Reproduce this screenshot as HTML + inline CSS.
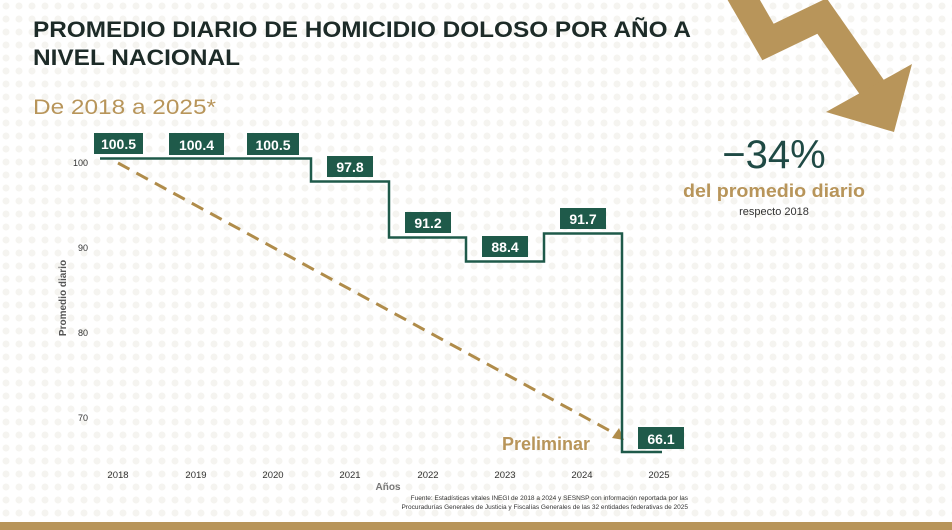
<!DOCTYPE html>
<html><head><meta charset="utf-8"><style>
body{margin:0;width:952px;height:530px;background:#fff;overflow:hidden;font-family:"Liberation Sans",sans-serif;}
</style></head><body>
<svg width="952" height="530" xmlns="http://www.w3.org/2000/svg" style="position:absolute;left:0;top:0">
<defs><pattern id="d" width="13" height="13" patternUnits="userSpaceOnUse"><circle cx="6" cy="6" r="3.5" fill="#f5f4f0"/></pattern></defs>
<rect width="952" height="530" fill="url(#d)"/>
<polyline points="738,-10 768,42 822,16 878,96" fill="none" stroke="#b8955a" stroke-width="28" stroke-linejoin="miter"/>
<polygon points="826,112 912,64 894,132" fill="#b8955a"/>
<rect x="0" y="522" width="952" height="8" fill="#b8955a"/>
<text x="33" y="37" font-size="22" font-weight="bold" fill="#1d2b28" textLength="658" lengthAdjust="spacingAndGlyphs">PROMEDIO DIARIO DE HOMICIDIO DOLOSO POR AÑO A</text>
<text x="33" y="65" font-size="22" font-weight="bold" fill="#1d2b28" textLength="207" lengthAdjust="spacingAndGlyphs">NIVEL NACIONAL</text>
<text x="33" y="114" font-size="21" fill="#b8955a" textLength="183" lengthAdjust="spacingAndGlyphs">De 2018 a 2025*</text>
<text x="774" y="168" font-size="40" fill="#1f4a45" text-anchor="middle">−34%</text>
<text x="683" y="197" font-size="18" font-weight="bold" fill="#b8955a" textLength="182" lengthAdjust="spacingAndGlyphs">del promedio diario</text>
<text x="774" y="215" font-size="11" fill="#333" text-anchor="middle">respecto 2018</text>
<g font-size="9" fill="#333" text-anchor="end">
<text x="88" y="166">100</text><text x="88" y="251">90</text><text x="88" y="336">80</text><text x="88" y="421">70</text></g>
<text transform="translate(66,298) rotate(-90)" font-size="10" font-weight="bold" fill="#555" text-anchor="middle">Promedio diario</text>
<g font-size="9.5" fill="#333" text-anchor="middle">
<text x="118" y="478">2018</text><text x="196" y="478">2019</text><text x="273" y="478">2020</text><text x="350" y="478">2021</text><text x="428" y="478">2022</text><text x="505" y="478">2023</text><text x="582" y="478">2024</text><text x="659" y="478">2025</text></g>
<text x="388" y="490" font-size="10" font-weight="bold" fill="#777" text-anchor="middle">Años</text>
<text x="688" y="500" font-size="6.5" fill="#333" text-anchor="end">Fuente: Estadísticas vitales INEGI de 2018 a 2024 y SESNSP con información reportada por las</text>
<text x="688" y="509" font-size="6.5" fill="#333" text-anchor="end">Procuradurías Generales de Justicia y Fiscalías Generales de las 32 entidades federativas de 2025</text>
<line x1="118" y1="163" x2="612" y2="432" stroke="#b08c4a" stroke-width="3" stroke-dasharray="13,8"/>
<polygon points="624,440 612,438 619,428" fill="#b08c4a"/>
<text x="590" y="450" font-size="18" font-weight="bold" fill="#b8955a" text-anchor="end">Preliminar</text>
<polyline points="100,158.5 311,158.5 311,181.5 389,181.5 389,237.5 466,237.5 466,261.5 544,261.5 544,233.5 622,233.5 622,452 662,452" fill="none" stroke="#1f5a4a" stroke-width="2.5"/>
<g font-size="14" font-weight="bold" fill="#fff" text-anchor="middle">
<rect x="94" y="133" width="49" height="21" fill="#1f5a4a"/><text x="118.5" y="149">100.5</text>
<rect x="169" y="133" width="55" height="22" fill="#1f5a4a"/><text x="196.5" y="150">100.4</text>
<rect x="247" y="133" width="52" height="22" fill="#1f5a4a"/><text x="273" y="150">100.5</text>
<rect x="327" y="156" width="46" height="21" fill="#1f5a4a"/><text x="350" y="172">97.8</text>
<rect x="405" y="212" width="46" height="21" fill="#1f5a4a"/><text x="428" y="228">91.2</text>
<rect x="482" y="236" width="46" height="21" fill="#1f5a4a"/><text x="505" y="252">88.4</text>
<rect x="560" y="208" width="46" height="21" fill="#1f5a4a"/><text x="583" y="224">91.7</text>
<rect x="638" y="427" width="46" height="22" fill="#1f5a4a"/><text x="661" y="444">66.1</text>
</g>
</svg>
</body></html>
